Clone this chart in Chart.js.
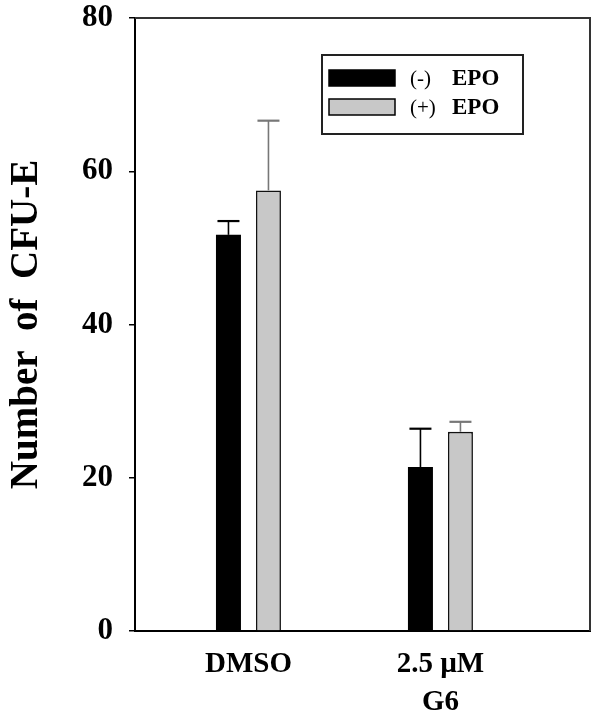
<!DOCTYPE html>
<html>
<head>
<meta charset="utf-8">
<script src="https://cdn.jsdelivr.net/npm/chart.js@4.4.1/dist/chart.umd.min.js"></script>
<style>
  html, body { margin: 0; padding: 0; background: #fff; }
  #wrap { width: 600px; height: 721px; position: relative; }
</style>
</head>
<body>
<div id="wrap"><canvas id="myChart"></canvas></div>
<script>
// data
const categories = ['DMSO', ['2.5 \u00b5M', 'G6']];
const catPos = [1, 2];
const seriesLabels = ['(-)  EPO', '(+)  EPO'];
const minusEpo = [51.7, 21.4];
const plusEpo = [57.5, 26.0];
const minusErr = [1.8, 5.0];
const plusErr = [9.1, 1.3];
const yTicks = [0, 20, 40, 60, 80];

const serif = '"Liberation Serif", "Times New Roman", serif';

function toPoints(vals) {
    return vals.map(function(v, i) {
        return { x: catPos[i], y: v };
    });
}

// error bars (upper only)
const errorBars = {
    id: 'errorBars',
    afterDatasetsDraw(chart) {
        const ctx = chart.ctx;
        const y = chart.scales.y;
        chart.data.datasets.forEach(function(ds, i) {
            const meta = chart.getDatasetMeta(i);
            meta.data.forEach(function(bar, j) {
                const top = y.getPixelForValue(ds.data[j].y + ds.errors[j]);
                ctx.save();
                ctx.strokeStyle = ds.errColor;
                ctx.lineWidth = 1.6;
                ctx.beginPath();
                ctx.moveTo(bar.x, bar.y);
                ctx.lineTo(bar.x, top);
                ctx.stroke();
                ctx.lineWidth = 2.2;
                ctx.beginPath();
                ctx.moveTo(bar.x - 11, top);
                ctx.lineTo(bar.x + 11, top);
                ctx.stroke();
                ctx.restore();
            });
        });
    }
};

// top and right frame lines
const frame = {
    id: 'frame',
    beforeDatasetsDraw(chart) {
        const a = chart.chartArea;
        const ctx = chart.ctx;
        ctx.save();
        ctx.strokeStyle = '#333';
        ctx.lineWidth = 2;
        ctx.beginPath();
        ctx.moveTo(a.left, a.top);
        ctx.lineTo(a.right, a.top);
        ctx.lineTo(a.right, a.bottom);
        ctx.stroke();
        ctx.restore();
    }
};

// boxed legend inside the plot
const boxLegend = {
    id: 'boxLegend',
    afterDraw(chart) {
        const ctx = chart.ctx;
        const bx = 322, by = 55, bw = 201, bh = 79;
        ctx.save();
        ctx.fillStyle = '#fff';
        ctx.fillRect(bx, by, bw, bh);
        ctx.strokeStyle = '#222';
        ctx.lineWidth = 2;
        ctx.strokeRect(bx, by, bw, bh);
        const rows = [78, 107];
        chart.data.datasets.forEach(function(ds, i) {
            const cy = rows[i];
            ctx.fillStyle = ds.backgroundColor;
            ctx.fillRect(329, cy - 8, 66, 16);
            ctx.strokeStyle = '#000';
            ctx.lineWidth = 1.5;
            ctx.strokeRect(329, cy - 8, 66, 16);
            const parts = ds.label.split(/\s+/);
            ctx.fillStyle = '#000';
            ctx.textBaseline = 'middle';
            ctx.font = '21px ' + serif;
            ctx.fillText(parts[0], 410, cy + 1);
            ctx.font = 'bold 23px ' + serif;
            ctx.fillText(parts[1], 452, cy + 1);
        });
        ctx.restore();
    }
};

new Chart(document.getElementById('myChart'), {
    type: 'bar',
    data: {
        datasets: [{
            label: seriesLabels[0],
            data: toPoints(minusEpo),
            errors: minusErr,
            errColor: '#000',
            backgroundColor: '#000000',
            borderColor: '#000000',
            borderWidth: 0,
        }, {
            label: seriesLabels[1],
            data: toPoints(plusEpo),
            errors: plusErr,
            errColor: '#777',
            backgroundColor: '#c8c8c8',
            borderColor: '#111111',
            borderWidth: 1.6,
        }]
    },
    options: {
        responsive: true,
        maintainAspectRatio: false,
        animation: false,
        devicePixelRatio: 1,
        categoryPercentage: 80 / 192,
        barPercentage: 0.625,
        layout: { padding: { top: 18, right: 10, left: 0, bottom: 0 } },
        plugins: {
            legend: { display: false },
            tooltip: { enabled: false },
        },
        scales: {
            x: {
                type: 'linear',
                min: 0.409,
                max: 2.779,
                offset: false,
                afterBuildTicks: function(scale) {
                    scale.ticks = catPos.map(function(v) { return { value: v }; });
                },
                afterFit: function(scale) {
                    scale.height = 90;
                    scale.paddingLeft = 0;
                    scale.paddingRight = 0;
                },
                grid: { display: false, drawTicks: false, offset: false },
                border: { display: true, color: '#000', width: 2 },
                ticks: {
                    autoSkip: false,
                    maxRotation: 0,
                    padding: 15,
                    color: '#000',
                    font: { family: serif, size: 29, weight: 'bold', lineHeight: 1.3 },
                    callback: function(value) {
                        return categories[catPos.indexOf(value)];
                    }
                }
            },
            y: {
                min: 0,
                max: 80,
                afterBuildTicks: function(scale) {
                    scale.ticks = yTicks.map(function(v) { return { value: v }; });
                },
                afterFit: function(scale) {
                    scale.width = 135;
                    scale.paddingTop = 0;
                    scale.paddingBottom = 0;
                },
                grid: {
                    display: true,
                    drawOnChartArea: false,
                    drawTicks: true,
                    tickLength: 6,
                    color: '#000',
                    lineWidth: 1.5
                },
                border: { display: true, color: '#000', width: 2 },
                ticks: {
                    padding: 16,
                    color: '#000',
                    font: { family: serif, size: 31, weight: 'bold', lineHeight: 1.15 }
                },
                title: {
                    display: true,
                    text: 'Number  of  CFU-E',
                    color: '#000',
                    padding: { top: 4, bottom: 0 },
                    font: { family: serif, size: 39, weight: 'bold', lineHeight: 1.2 }
                }
            }
        }
    },
    plugins: [frame, errorBars, boxLegend]
});
</script>
</body>
</html>
